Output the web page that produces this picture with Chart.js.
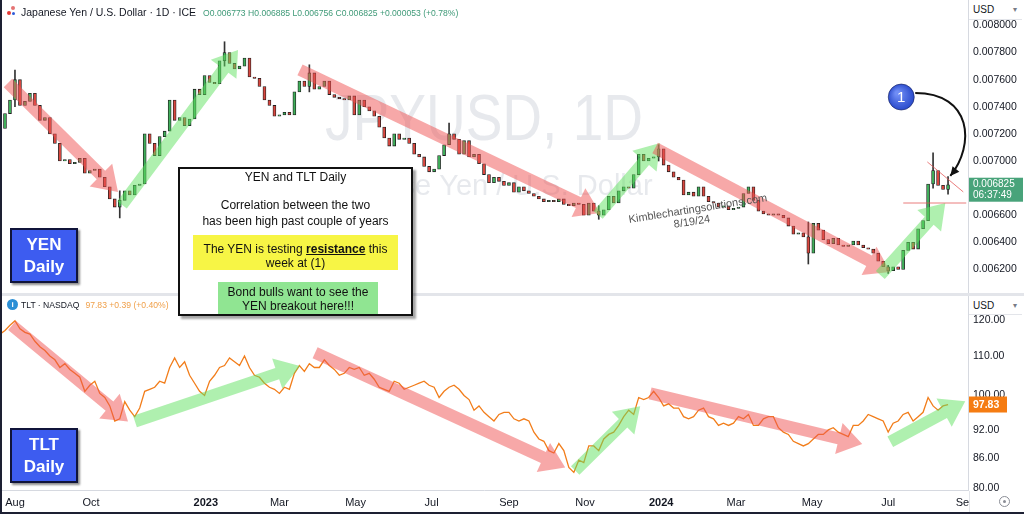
<!DOCTYPE html>
<html><head><meta charset="utf-8">
<script src="https://cdn.jsdelivr.net/npm/chart.js@4.4.1/dist/chart.umd.min.js"></script>
<style>
html,body{margin:0;padding:0;background:#fff}
#wrap{position:relative;width:1024px;height:514px;overflow:hidden;background:#fff;font-family:'Liberation Sans',Arial,Helvetica,sans-serif}
.abs{position:absolute}
canvas{position:absolute;left:0}
.box{position:absolute;box-sizing:border-box}
.tb{position:absolute;left:0;right:0;text-align:center;font-size:12px;line-height:14px;color:#111;white-space:nowrap}
.lbl{position:absolute;box-sizing:border-box;background:#3d5cf0;border:2px solid #10143a;box-shadow:2px 2px 2px rgba(0,0,0,0.45);color:#fff;font-weight:bold;font-size:17px;line-height:21.5px;text-align:center;padding-top:4px}
</style></head>
<body>
<div id="wrap">
  <canvas id="topc" width="1024" height="293" style="top:0"></canvas>
  <div class="abs" style="left:0;top:293px;width:1024px;height:3px;background:#e3e5ea"></div>
  <canvas id="botc" width="1024" height="218" style="top:296px"></canvas>

  <!-- header top -->
  <div class="abs" style="left:7px;top:5px;width:11px;height:12px">
    <div class="abs" style="left:0;top:6px;width:4px;height:4px;border-radius:2px;background:#e53935"></div>
    <div class="abs" style="left:4px;top:1px;width:4px;height:4px;border-radius:2px;background:#e57373"></div>
    <div class="abs" style="left:5px;top:7px;width:3px;height:3px;border-radius:2px;background:#2f5bd8"></div>
  </div>
  <div class="abs" style="left:21px;top:5px;font-size:10.5px;line-height:14px;color:#131722;white-space:nowrap">Japanese Yen / U.S. Dollar · 1D · ICE<span style="margin-left:7px;font-size:8.6px;color:#3f9a78">O0.006773 H0.006885 L0.006756 C0.006825 +0.000053 (+0.78%)</span></div>

  <!-- header bottom -->
  <div class="abs" style="left:7px;top:299px;width:11px;height:11px;border-radius:6px;background:#2b8fd6;color:#fff;font-size:8px;line-height:11px;text-align:center;font-weight:bold">i</div>
  <div class="abs" style="left:21px;top:299px;font-size:8.6px;line-height:12px;color:#131722;white-space:nowrap">TLT · NASDAQ<span style="margin-left:6px;color:#f0a04a">97.83 +0.39 (+0.40%)</span></div>

  <!-- axis headers -->
  <div class="abs" style="left:969px;top:0;width:53px;height:20px;background:#fff;border-bottom:1px solid #e3e5ea;font-size:10px;line-height:20px;color:#131722;padding-left:4px;box-sizing:border-box">USD<span style="position:absolute;right:5px;color:#787b86;font-size:8px">▾</span></div>
  <div class="abs" style="left:969px;top:297px;width:53px;height:18px;background:#fff;border-bottom:1px solid #e3e5ea;font-size:10px;line-height:18px;color:#131722;padding-left:4px;box-sizing:border-box">USD<span style="position:absolute;right:5px;color:#787b86;font-size:8px">▾</span></div>
  <div class="abs" style="left:969px;top:491px;width:55px;height:23px;background:#fff;border-left:1px solid #e3e5ea;box-sizing:border-box">
    <div class="abs" style="left:29px;top:5px;width:9px;height:9px;border:1px solid #8a8d96;border-radius:6px"></div>
    <div class="abs" style="left:33px;top:9px;width:3px;height:3px;border-radius:2px;background:#8a8d96"></div>
  </div>

  <!-- labels -->
  <div class="lbl" style="left:10px;top:228px;width:68px;height:55px">YEN<br>Daily</div>
  <div class="lbl" style="left:10px;top:428px;width:68px;height:55px">TLT<br>Daily</div>

  <!-- main note box -->
  <div class="box" style="left:178px;top:167px;width:235px;height:149px;background:#fff;border:2px solid #111;box-shadow:3px 3px 2px rgba(0,0,0,0.35)">
    <div class="tb" style="top:1px">YEN and TLT Daily</div>
    <div class="tb" style="top:29px">Correlation between the two</div>
    <div class="tb" style="top:45px">has been high past couple of years</div>
    <div class="box" style="left:13px;top:66px;width:205px;height:35px;background:#f7f545">
      <div class="tb" style="top:7px">The YEN is testing <b><u>resistance</u></b> this</div>
      <div class="tb" style="top:21px">week at (1)</div>
    </div>
    <div class="box" style="left:38px;top:113px;width:160px;height:32px;background:#90e592">
      <div class="tb" style="top:3px">Bond bulls want to see the</div>
      <div class="tb" style="top:17px">YEN breakout here!!!</div>
    </div>
  </div>

  <div class="abs" style="left:0;top:0;width:2px;height:514px;background:#1d2033"></div>
  <div class="abs" style="left:0;top:512px;width:1024px;height:2px;background:#1d2033"></div>
</div>

<script>
const FONT = "'Liberation Sans', Arial, Helvetica, sans-serif";

// ---- sampling grid: days counted from 2022-08-01, one sample every 4 days starting 2022-07-20
const sampleStart = -12;
const sampleStep = 4;

// ---- JPY/USD closes
const jpyFirstOpen = 0.00721;
const jpyClose = [
0.00724,0.00735,0.00745,0.00760,0.00741,0.00744,0.00750,0.00741,0.00730,0.00732,
0.00720,0.00713,0.00700,0.00701,0.00698,0.00699,0.00702,0.00691,0.00693,0.00694,
0.00688,0.00681,0.00672,0.00666,0.00671,0.00678,0.00675,0.00682,0.00683,0.00720,
0.00713,0.00704,0.00718,0.00722,0.00745,0.00730,0.00732,0.00726,0.00731,0.00753,
0.00749,0.00763,0.00758,0.00757,0.00774,0.00780,0.00772,0.00768,0.00770,0.00776,
0.00762,0.00761,0.00755,0.00745,0.00741,0.00733,0.00734,0.00736,0.00734,0.00751,
0.00759,0.00755,0.00765,0.00753,0.00755,0.00759,0.00749,0.00747,0.00746,0.00745,
0.00748,0.00734,0.00745,0.00740,0.00737,0.00733,0.00725,0.00717,0.00711,0.00720,
0.00716,0.00717,0.00713,0.00705,0.00703,0.00696,0.00692,0.00694,0.00704,0.00712,
0.00720,0.00716,0.00705,0.00715,0.00703,0.00705,0.00698,0.00690,0.00684,0.00688,
0.00685,0.00682,0.00684,0.00677,0.00681,0.00678,0.00676,0.00674,0.00672,0.00670,
0.00671,0.00670,0.00672,0.00668,0.00667,0.00669,0.00668,0.00660,0.00669,0.00663,
0.00660,0.00664,0.00674,0.00669,0.00678,0.00681,0.00680,0.00690,0.00705,0.00700,
0.00702,0.00703,0.00709,0.00697,0.00692,0.00688,0.00686,0.00675,0.00677,0.00674,
0.00681,0.00674,0.00670,0.00669,0.00666,0.00667,0.00664,0.00665,0.00666,0.00676,
0.00681,0.00671,0.00663,0.00661,0.00660,0.00661,0.00660,0.00658,0.00652,0.00646,
0.00647,0.00644,0.00632,0.00654,0.00649,0.00642,0.00639,0.00643,0.00638,0.00637,
0.00638,0.00641,0.00638,0.00636,0.00635,0.00632,0.00626,0.00622,0.00619,0.00622,
0.00620,0.00634,0.00640,0.00635,0.00650,0.00656,0.00683,0.00693,0.00682,0.00679,
0.006825
];
// ---- notable wicks (sample index, low, high)
const wickIndex = [3, 24, 45, 62, 90, 120, 132, 162, 178, 187, 190];
const wickLow   = [0.00740, 0.00658, 0.00770, 0.00751, 0.00714, 0.00657, 0.00700, 0.00624, 0.00617, 0.00680, 0.006756];
const wickHigh  = [0.00767, 0.00678, 0.00788, 0.00771, 0.00728, 0.00667, 0.00712, 0.00655, 0.00623, 0.00706, 0.006885];

// ---- TLT closes
const tltClose = [
116.0,117.0,118.5,119.8,117.5,116.5,116.0,114.0,112.5,111.5,
110.0,109.0,107.0,108.0,106.5,105.5,104.5,101.0,102.5,103.5,
100.5,99.5,97.5,94.0,94.5,98.5,96.5,95.0,97.0,101.0,
101.5,102.0,103.5,103.0,107.0,109.5,107.0,108.5,105.0,103.0,
101.0,100.0,103.5,105.0,107.0,107.5,109.5,108.5,107.5,110.0,
107.0,105.0,104.5,103.0,102.0,101.5,100.5,102.0,101.5,105.5,
107.5,106.0,108.0,107.0,107.0,109.0,107.5,106.5,105.0,105.5,
107.0,106.5,107.0,105.0,105.5,104.0,102.0,101.5,101.0,103.5,
103.0,101.5,102.0,102.5,103.0,103.5,102.5,102.0,99.5,101.0,
102.0,102.5,101.5,100.0,99.0,96.5,97.5,96.0,95.0,94.0,
95.5,96.0,96.0,94.5,94.0,94.5,94.0,91.5,90.0,89.5,
87.5,87.0,89.0,87.5,84.0,83.0,85.5,85.0,88.5,88.5,
87.5,90.0,91.0,91.5,93.0,95.0,96.5,95.5,99.5,99.0,
99.5,101.0,99.5,97.5,98.0,97.0,97.0,95.0,94.5,95.0,
96.5,97.0,95.0,94.5,93.0,93.5,93.0,93.5,95.0,94.5,
95.5,93.0,93.0,94.5,95.0,95.0,92.5,91.5,91.0,89.5,
89.0,88.5,89.0,90.0,91.0,91.0,92.0,92.5,91.5,91.0,
90.5,93.0,93.0,94.0,95.5,95.0,94.5,94.0,91.5,93.5,
94.0,95.5,96.0,94.0,95.0,96.0,99.5,97.5,96.5,97.5,
97.83
];

// ---- axis ticks
const yenTicks = [0.0062,0.0064,0.0066,0.0068,0.0070,0.0072,0.0074,0.0076,0.0078,0.0080];
const tltTicks = [120,110,100,92,86,80];
const monthDays   = [0,61,153,212,273,334,396,457,518,578,639,700,762];
const monthLabels = ['Aug','Oct','2023','Mar','May','Jul','Sep','Nov','2024','Mar','May','Jul','Sep'];

// ---- annotations in data coordinates [day, value]
const yenArrows = [
  {from:[-5.6,0.007576], to:[82.6,0.006772], kind:'red'},
  {from:[85.8,0.006676], to:[178.8,0.007819], kind:'green'},
  {from:[228.5,0.007672], to:[469.1,0.006617], kind:'red'},
  {from:[467.5,0.006602], to:[517.2,0.007133], kind:'green'},
  {from:[513.2,0.007096], to:[701.7,0.006181], kind:'red'},
  {from:[693.7,0.006159], to:[745.8,0.006690], kind:'green'}
];
const tltArrows = [
  {from:[-2.4,118.5], to:[90.6,93.9], kind:'red'},
  {from:[96.2,93.9], to:[228.5,107.4], kind:'green'},
  {from:[240.6,110.9], to:[441.1,84.0], kind:'red'},
  {from:[449.1,83.4], to:[501.2,97.4], kind:'green'},
  {from:[509.2,100.5], to:[679.2,88.9], kind:'red'},
  {from:[701.7,89.4], to:[761.8,98.6], kind:'green'}
];
const yenLines = [
  {from:[731.4,0.006993], to:[760.2,0.006772]},
  {from:[712.1,0.006690], to:[762.6,0.006690]}
];
const markerOne = [710.5, 0.007472];
const curvePts = [[721.7,0.007502],[767.4,0.007502],[769.8,0.007118],[749.8,0.006890]];

const days = jpyClose.map((_, i) => sampleStart + i * sampleStep);
const UP = '#3fae5a', DOWN = '#d9473f';
const COLORS = {red:'rgba(240,82,82,0.5)', green:'rgba(96,226,96,0.5)'};

function px(chart, d, v){ return {x: chart.scales.x.getPixelForValue(d), y: chart.scales.y.getPixelForValue(v)}; }
function drawArrow(ctx, a, b, fill){
  const shaft = 12, headW = 32, headL = 24;
  const dx = b.x-a.x, dy = b.y-a.y, L = Math.hypot(dx,dy);
  const ux = dx/L, uy = dy/L, qx = -uy, qy = ux;
  const bx = b.x-ux*headL, by = b.y-uy*headL;
  ctx.beginPath();
  ctx.moveTo(a.x+qx*shaft/2, a.y+qy*shaft/2);
  ctx.lineTo(bx+qx*shaft/2, by+qy*shaft/2);
  ctx.lineTo(bx+qx*headW/2, by+qy*headW/2);
  ctx.lineTo(b.x, b.y);
  ctx.lineTo(bx-qx*headW/2, by-qy*headW/2);
  ctx.lineTo(bx-qx*shaft/2, by-qy*shaft/2);
  ctx.lineTo(a.x-qx*shaft/2, a.y-qy*shaft/2);
  ctx.closePath();
  ctx.fillStyle = fill; ctx.fill();
}

Chart.defaults.font.family = FONT;

const yAxisFit = s => { s.width = 56; s.paddingTop = 0; s.paddingBottom = 0; };
const xAxisFit = s => { s.height = 24; s.paddingLeft = 0; s.paddingRight = 0; };

const topPlugin = {
  id: 'topDeco',
  beforeDatasetsDraw(chart){
    const ctx = chart.ctx, a = chart.chartArea;
    const cx = (a.left + a.right) / 2;
    ctx.save();
    ctx.fillStyle = 'rgba(170,175,190,0.28)';
    ctx.textAlign = 'center'; ctx.textBaseline = 'alphabetic';
    ctx.translate(cx, 140); ctx.scale(0.86, 1);
    ctx.font = '64px ' + FONT;
    ctx.fillText('JPYUSD, 1D', 0, 0);
    ctx.restore();
    ctx.save();
    ctx.fillStyle = 'rgba(170,175,190,0.28)';
    ctx.textAlign = 'center';
    ctx.font = '29px ' + FONT;
    ctx.fillText('Japanese Yen / U.S. Dollar', cx - 5, 195);
    ctx.restore();
  },
  afterDatasetsDraw(chart){
    const ctx = chart.ctx;
    ctx.save();
    yenArrows.forEach(ar => drawArrow(ctx, px(chart, ...ar.from), px(chart, ...ar.to), COLORS[ar.kind]));
    ctx.strokeStyle = 'rgba(225,80,80,0.75)'; ctx.lineWidth = 1;
    yenLines.forEach(l => { const p=px(chart,...l.from), q=px(chart,...l.to); ctx.beginPath(); ctx.moveTo(p.x,p.y); ctx.lineTo(q.x,q.y); ctx.stroke(); });
    ctx.fillStyle = '#555'; ctx.font = '11px ' + FONT; ctx.textAlign = 'center'; ctx.textBaseline = 'middle';
    ctx.save(); ctx.translate(698, 209); ctx.rotate(-9*Math.PI/180); ctx.fillText('Kimblechartingsolutions.com', 0, 0); ctx.restore();
    ctx.save(); ctx.translate(692, 222); ctx.rotate(-9*Math.PI/180); ctx.fillText('8/19/24', 0, 0); ctx.restore();
    const c = curvePts.map(p => px(chart, ...p));
    ctx.strokeStyle = '#111'; ctx.lineWidth = 2;
    ctx.beginPath(); ctx.moveTo(c[0].x,c[0].y); ctx.bezierCurveTo(c[1].x,c[1].y,c[2].x,c[2].y,c[3].x,c[3].y); ctx.stroke();
    const ang = Math.atan2(c[3].y-c[2].y, c[3].x-c[2].x);
    ctx.fillStyle = '#111'; ctx.beginPath();
    ctx.moveTo(c[3].x, c[3].y);
    ctx.lineTo(c[3].x - 10*Math.cos(ang-0.45), c[3].y - 10*Math.sin(ang-0.45));
    ctx.lineTo(c[3].x - 10*Math.cos(ang+0.45), c[3].y - 10*Math.sin(ang+0.45));
    ctx.closePath(); ctx.fill();
    const m = px(chart, ...markerOne);
    const g = ctx.createRadialGradient(m.x-4, m.y-4, 2, m.x, m.y, 14);
    g.addColorStop(0, '#6f8df5'); g.addColorStop(1, '#2546c9');
    ctx.fillStyle = g; ctx.beginPath(); ctx.arc(m.x, m.y, 13, 0, Math.PI*2); ctx.fill();
    ctx.strokeStyle = 'rgba(20,30,90,0.6)'; ctx.lineWidth = 1; ctx.stroke();
    ctx.fillStyle = '#fff'; ctx.font = '15px ' + FONT; ctx.textAlign='center'; ctx.textBaseline='middle';
    ctx.fillText('1', m.x, m.y+1);
    ctx.restore();
  },
  afterDraw(chart){
    const ctx = chart.ctx, a = chart.chartArea;
    const last = jpyClose[jpyClose.length-1];
    const y = chart.scales.y.getPixelForValue(last);
    ctx.save();
    ctx.fillStyle = '#48a37a';
    ctx.fillRect(a.right+1, y-7, 54, 24);
    ctx.fillStyle = '#fff'; ctx.font = '10px ' + FONT; ctx.textAlign='left'; ctx.textBaseline='middle';
    ctx.fillText(last.toFixed(6), a.right+5, y);
    ctx.fillText('06:37:49', a.right+5, y+11);
    ctx.restore();
  }
};

const botPlugin = {
  id: 'botDeco',
  afterDatasetsDraw(chart){
    const ctx = chart.ctx;
    ctx.save();
    tltArrows.forEach(ar => drawArrow(ctx, px(chart, ...ar.from), px(chart, ...ar.to), COLORS[ar.kind]));
    ctx.restore();
  },
  afterDraw(chart){
    const ctx = chart.ctx, a = chart.chartArea;
    const last = tltClose[tltClose.length-1];
    const y = chart.scales.y.getPixelForValue(last);
    ctx.save();
    ctx.fillStyle = '#f57c12';
    ctx.fillRect(a.right+1, y-8, 38, 16);
    ctx.fillStyle = '#fff'; ctx.font = 'bold 10.5px ' + FONT; ctx.textAlign='left'; ctx.textBaseline='middle';
    ctx.fillText(last.toFixed(2), a.right+5, y+0.5);
    ctx.restore();
  }
};

new Chart(document.getElementById('topc'), {
  type: 'bar',
  data: {
    datasets: [
      {
        label: 'wicks', order: 2, grouped: false, barThickness: 1,
        data: wickIndex.map((k, j) => ({x: days[k], y: [wickLow[j], wickHigh[j]]})),
        backgroundColor: '#333', borderWidth: 0
      },
      {
        label: 'JPYUSD', order: 1, grouped: false, barThickness: 3, minBarLength: 1,
        data: jpyClose.map((c, i) => ({x: days[i], y: [i ? jpyClose[i-1] : jpyFirstOpen, c]})),
        backgroundColor: ctx => (ctx.raw && ctx.raw.y[1] >= ctx.raw.y[0]) ? UP : DOWN,
        borderColor: '#1e1e1e', borderWidth: 0.8, borderSkipped: false
      }
    ]
  },
  options: {
    responsive: false, animation: false, devicePixelRatio: 1, events: [],
    layout: {padding: 0},
    plugins: {legend: {display: false}, tooltip: {enabled: false}},
    scales: {
      x: {type: 'linear', display: false, offset: false, min: -12, max: 764, bounds: 'data', grid: {offset: false}},
      y: {
        type: 'linear', position: 'right', min: 0.006026, max: 0.008188, bounds: 'data',
        afterBuildTicks: s => { s.ticks = yenTicks.map(v => ({value: v})); },
        afterFit: yAxisFit,
        grid: {display: true, drawOnChartArea: false, drawTicks: false, color: 'transparent'},
        border: {display: true, color: '#d6d9e0'},
        ticks: {autoSkip: false, padding: 5, color: '#131722', font: {size: 10.5, family: FONT}, callback: v => Number(v).toFixed(6)}
      }
    }
  },
  plugins: [topPlugin]
});

new Chart(document.getElementById('botc'), {
  type: 'line',
  data: {
    datasets: [{
      label: 'TLT', data: tltClose.map((v, i) => ({x: days[i], y: v})),
      borderColor: '#f27d1a', borderWidth: 1.3, pointRadius: 0, tension: 0, fill: false
    }]
  },
  options: {
    responsive: false, animation: false, devicePixelRatio: 1, events: [],
    layout: {padding: 0},
    plugins: {legend: {display: false}, tooltip: {enabled: false}},
    scales: {
      x: {
        type: 'linear', position: 'bottom', offset: false, min: -12, max: 764, bounds: 'data',
        afterBuildTicks: s => { s.ticks = monthDays.map((d, i) => ({value: d, major: /^\d{4}$/.test(monthLabels[i])})); },
        afterFit: xAxisFit,
        grid: {display: true, drawOnChartArea: false, drawTicks: false, color: 'transparent'},
        border: {display: true, color: '#d6d9e0'},
        ticks: {
          autoSkip: false, maxRotation: 0, minRotation: 0, padding: 6, color: '#131722',
          font: c => ({family: FONT, size: 11, weight: (c.tick && c.tick.major) ? 'bold' : 'normal'}),
          callback: (v) => { const i = monthDays.indexOf(v); return i >= 0 ? monthLabels[i] : ''; }
        }
      },
      y: {
        type: 'logarithmic', position: 'right', min: 79.55, max: 127.2, bounds: 'data',
        afterBuildTicks: s => { s.ticks = tltTicks.map(v => ({value: v})); },
        afterFit: yAxisFit,
        grid: {display: true, drawOnChartArea: false, drawTicks: false, color: 'transparent'},
        border: {display: true, color: '#d6d9e0'},
        ticks: {autoSkip: false, padding: 5, color: '#131722', font: {size: 10.5, family: FONT}, callback: v => Number(v).toFixed(2)}
      }
    }
  },
  plugins: [botPlugin]
});
</script>
</body></html>
